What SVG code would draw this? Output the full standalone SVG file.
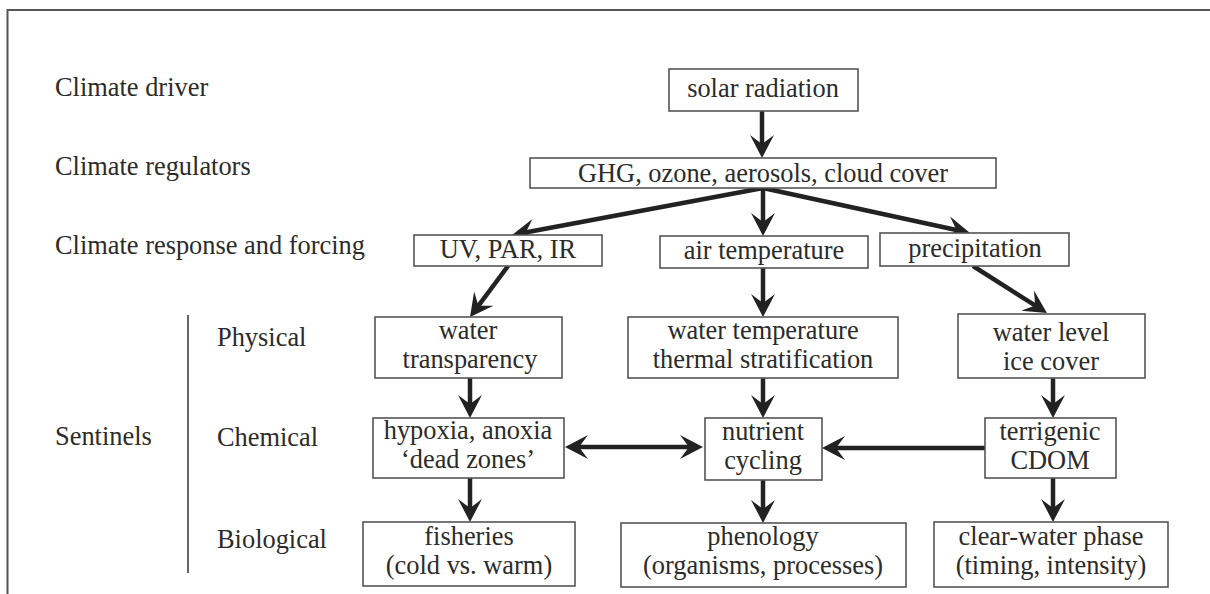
<svg xmlns="http://www.w3.org/2000/svg" width="1210" height="594" viewBox="0 0 1210 594">
  <style>
    .frame { stroke: #555; stroke-width: 2; fill: none; }
    .box { fill: #fff; stroke: #555; stroke-width: 1.6; }
    .lbl { font-family: "Liberation Serif", "Times New Roman", serif; font-size: 26.4px; fill: #2b2b2b; }
    .ctr { text-anchor: middle; }
    .edge { stroke: #222; stroke-width: 4.5; fill: none; marker-end: url(#head); }
    .both { marker-start: url(#tail); }
  </style>
  <defs>
    <marker id="head" markerUnits="userSpaceOnUse" viewBox="-18 -13 28 26" markerWidth="28" markerHeight="26" refX="0" refY="0" orient="auto">
      <path d="M8,0 L-15,-12 L-6,0 L-15,12 Z" fill="#222"/>
    </marker>
    <marker id="tail" markerUnits="userSpaceOnUse" viewBox="-10 -13 28 26" markerWidth="28" markerHeight="26" refX="0" refY="0" orient="auto">
      <path d="M-8,0 L15,-12 L6,0 L15,12 Z" fill="#222"/>
    </marker>
  </defs>

  <rect width="1210" height="594" fill="#fff"/>
  <!-- outer frame (top and left edges) -->
  <path class="frame" d="M7.5,594 L7.5,10 L1210,10"/>

  <!-- row labels -->
  <g id="row-labels">
    <text class="lbl" x="55" y="96">Climate driver</text>
    <text class="lbl" x="55" y="175">Climate regulators</text>
    <text class="lbl" x="55" y="254">Climate response and forcing</text>
    <text class="lbl" x="55" y="445">Sentinels</text>
    <line x1="188" y1="315" x2="188" y2="573" stroke="#666" stroke-width="2"/>
    <text class="lbl" x="217" y="346">Physical</text>
    <text class="lbl" x="217" y="446">Chemical</text>
    <text class="lbl" x="217" y="548">Biological</text>
  </g>

  <!-- connectors -->
  <g id="connectors">
    <line class="edge" x1="762" y1="111" x2="762" y2="150"/>
    <line class="edge" x1="763" y1="188" x2="519.9" y2="233.5"/>
    <line class="edge" x1="763" y1="188" x2="763" y2="228"/>
    <line class="edge" x1="763" y1="188" x2="962.2" y2="231.3"/>
    <line class="edge" x1="508" y1="266" x2="474.8" y2="310.6"/>
    <line class="edge" x1="763" y1="268" x2="763" y2="309"/>
    <line class="edge" x1="973" y1="266" x2="1040.2" y2="308.7"/>
    <line class="edge" x1="470" y1="378" x2="470" y2="410"/>
    <line class="edge" x1="763" y1="378" x2="763" y2="410"/>
    <line class="edge" x1="1053" y1="378" x2="1053" y2="410"/>
    <line class="edge both" x1="573" y1="447" x2="695" y2="447"/>
    <line class="edge" x1="985" y1="448" x2="830" y2="448"/>
    <line class="edge" x1="470" y1="478" x2="470" y2="514"/>
    <line class="edge" x1="763" y1="480" x2="763" y2="515"/>
    <line class="edge" x1="1053" y1="478" x2="1053" y2="514"/>
  </g>

  <!-- nodes -->
  <g id="solar-radiation">
    <rect class="box" x="669" y="69" width="189" height="42"/>
    <text class="lbl ctr" x="763" y="97">solar radiation</text>
  </g>
  <g id="regulators">
    <rect class="box" x="530" y="158" width="466" height="30"/>
    <text class="lbl ctr" x="763" y="182">GHG, ozone, aerosols, cloud cover</text>
  </g>
  <g id="uv-par-ir">
    <rect class="box" x="414" y="235" width="188" height="31"/>
    <text class="lbl ctr" x="508" y="258">UV, PAR, IR</text>
  </g>
  <g id="air-temperature">
    <rect class="box" x="660" y="236" width="208" height="32"/>
    <text class="lbl ctr" x="764" y="259">air temperature</text>
  </g>
  <g id="precipitation">
    <rect class="box" x="880" y="233" width="189" height="33"/>
    <text class="lbl ctr" x="975" y="257">precipitation</text>
  </g>
  <g id="water-transparency">
    <rect class="box" x="375" y="317" width="187" height="61"/>
    <text class="lbl ctr" x="468" y="339">water</text>
    <text class="lbl ctr" x="470" y="368">transparency</text>
  </g>
  <g id="water-temperature">
    <rect class="box" x="628" y="317" width="270" height="61"/>
    <text class="lbl ctr" x="763" y="339">water temperature</text>
    <text class="lbl ctr" x="763" y="368">thermal stratification</text>
  </g>
  <g id="water-level">
    <rect class="box" x="958" y="314" width="187" height="64"/>
    <text class="lbl ctr" x="1051" y="341">water level</text>
    <text class="lbl ctr" x="1051" y="370">ice cover</text>
  </g>
  <g id="hypoxia">
    <rect class="box" x="373" y="418" width="191" height="60"/>
    <text class="lbl ctr" x="468" y="439">hypoxia, anoxia</text>
    <text class="lbl ctr" x="468" y="468">‘dead zones’</text>
  </g>
  <g id="nutrient-cycling">
    <rect class="box" x="705" y="418" width="117" height="62"/>
    <text class="lbl ctr" x="763" y="440">nutrient</text>
    <text class="lbl ctr" x="763" y="469">cycling</text>
  </g>
  <g id="terrigenic-cdom">
    <rect class="box" x="985" y="418" width="131" height="60"/>
    <text class="lbl ctr" x="1050" y="440">terrigenic</text>
    <text class="lbl ctr" x="1050" y="469">CDOM</text>
  </g>
  <g id="fisheries">
    <rect class="box" x="363" y="522" width="212" height="64"/>
    <text class="lbl ctr" x="469" y="545">fisheries</text>
    <text class="lbl ctr" x="469" y="574">(cold vs. warm)</text>
  </g>
  <g id="phenology">
    <rect class="box" x="621" y="523" width="285" height="64"/>
    <text class="lbl ctr" x="763" y="545">phenology</text>
    <text class="lbl ctr" x="763" y="574">(organisms, processes)</text>
  </g>
  <g id="clear-water-phase">
    <rect class="box" x="934" y="522" width="234" height="65"/>
    <text class="lbl ctr" x="1051" y="545">clear-water phase</text>
    <text class="lbl ctr" x="1051" y="574">(timing, intensity)</text>
  </g>
</svg>
